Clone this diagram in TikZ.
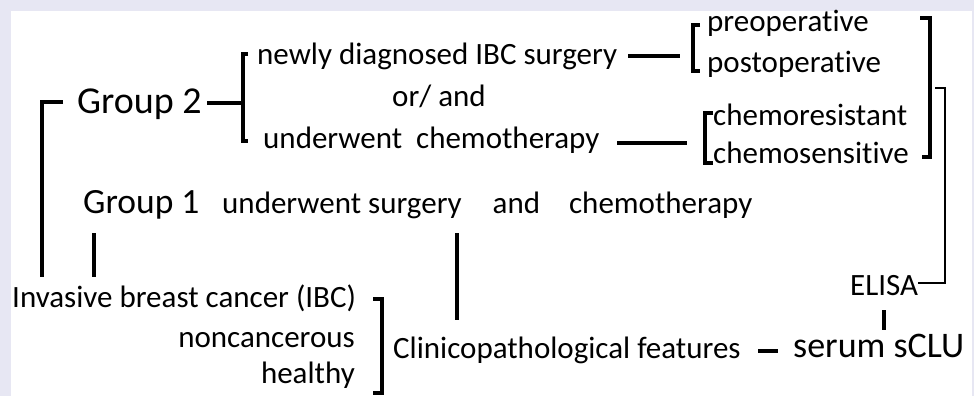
\documentclass[tikz,border=0pt]{standalone}
\usepackage{fontspec}
\setmainfont{Carlito}[Ligatures=NoCommon]
\definecolor{lavender}{RGB}{231,231,243}
\tikzset{lbl/.style={inner sep=0pt, anchor=base west, font=\fontsize{31}{31}\selectfont},
  big/.style={lbl, font=\fontsize{38}{38}\selectfont},
  brk/.style={line width=3.5pt},
  thinbrk/.style={line width=2.5pt}}
\begin{document}
\begin{tikzpicture}[x=1pt,y=-1pt]
\fill[lavender] (0,0) rectangle (974,396);
\fill[white] (11,11) rectangle (972,396);
\useasboundingbox (0,0) rectangle (974,396);
%
\node [big] at (77,113) (grp2) {Group 2};
\node [lbl] at (257,64) (newly) {newly diagnosed IBC surgery};
\node [lbl] at (392,106) (orand) {or/ and};
\node [lbl] at (263,148) (chemo) {underwent\ \ chemotherapy};
\node [lbl] at (707,32) (preop) {preoperative};
\node [lbl] at (707,73) (postop) {postoperative};
\node [lbl] at (713,125) (resist) {chemoresistant};
\node [lbl] at (713,163) (sensit) {chemosensitive};
\node [lbl, font=\fontsize{35.5}{35.5}\selectfont] at (83,213) (grp1) {Group 1};
\node [lbl] at (222,213) (treat) {underwent surgery\hspace{31pt}and\hspace{29pt}chemotherapy};
\node [lbl] at (12,307) (ibc) {Invasive breast cancer (IBC)};
\node [lbl, anchor=base east] at (355,347) (noncan) {noncancerous};
\node [lbl, anchor=base east] at (355,383) (healthy) {healthy};
\node [lbl] at (393,358) (clin) {Clinicopathological features};
\node [lbl] at (850,295) (elisa) {ELISA};
\node [big, font=\fontsize{36}{36}\selectfont] at (793,357) (sclu) {serum sCLU};
%
\coordinate (outerTop) at (63,102);   \coordinate (outerBot) at (42,277);
\coordinate (g1Top) at (94,233);      \coordinate (g1Bot) at (94,277);
\coordinate (g2Dash) at (207,103);    \coordinate (g2Brk) at (243,103);
\coordinate (opTop) at (248,54);      \coordinate (opBot) at (248,141);
\coordinate (surgL) at (628,56);      \coordinate (surgR) at (680,56);
\coordinate (ppTop) at (700,25);      \coordinate (ppBot) at (700,71);
\coordinate (chemL) at (617,143);     \coordinate (chemR) at (687,143);
\coordinate (crTop) at (713,113);     \coordinate (crBot) at (713,163);
\coordinate (rbTop) at (920,18);      \coordinate (rbBot) at (922,157);
\coordinate (elTop) at (935,88);      \coordinate (elEnd) at (918,283);
\coordinate (scTop) at (884,310);     \coordinate (scBot) at (884,330);
\coordinate (ftL) at (758,351);       \coordinate (ftR) at (778,351);
\coordinate (trTop) at (457,233);     \coordinate (trBot) at (457,320);
\coordinate (ibTop) at (373,299);     \coordinate (ibBot) at (373,393);
%
\draw[brk] (outerTop) -- (outerTop -| outerBot) -- (outerBot);
\draw[brk] (g1Top) -- (g1Bot);
\draw[brk] (g2Dash) -- (g2Brk);
\draw[brk] (opTop) -- ++(-5,0) |- (opBot);
\draw[brk] (surgL) -- (surgR);
\draw[brk] (ppTop) -- ++(-7,0) |- (ppBot);
\draw[brk] (chemL) -- (chemR);
\draw[brk] (crTop) -- ++(-8,0) |- (crBot);
\draw[brk] (rbTop) -- ++(10,0) |- (rbBot);
\draw[thinbrk] (elTop) -- ++(10,0) |- (elEnd);
\draw[brk] (scTop) -- (scBot);
\draw[brk] (ftL) -- (ftR);
\draw[brk] (trTop) -- (trBot);
\draw[brk] (ibTop) -- ++(9,0) |- (ibBot);
\end{tikzpicture}
\end{document}
